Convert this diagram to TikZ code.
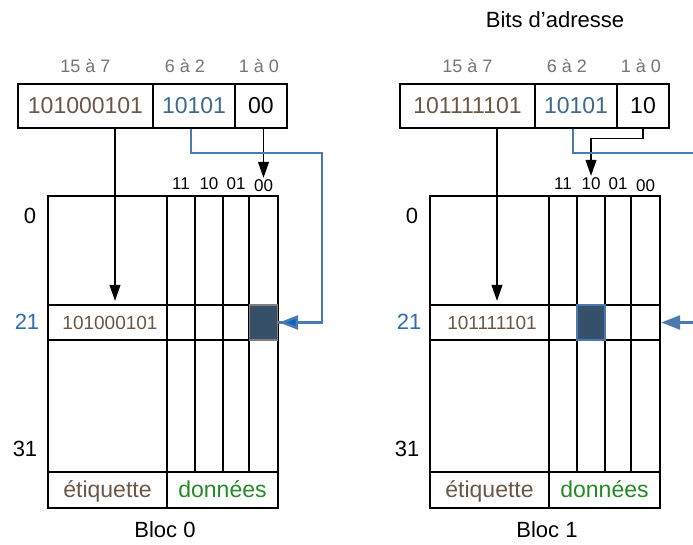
\documentclass[tikz,border=0pt]{standalone}
\usepackage{fontspec}
\setmainfont{Liberation Sans}
\usetikzlibrary{arrows.meta}
\definecolor{tagc}{HTML}{6B5744}
\definecolor{idxc}{HTML}{3E6A8C}
\definecolor{grayl}{HTML}{757575}
\definecolor{rowc}{HTML}{2E6DB0}
\definecolor{datac}{HTML}{258A25}
\definecolor{hlc}{HTML}{37506A}
\definecolor{bline}{HTML}{4A7AB0}
\definecolor{barrow}{HTML}{0C63BE}
\newcommand\cacheblk[5]{%
\begin{scope}[xshift=#2pt]
 \node[lbl] (#1l1) at (85.5,66) {15 à 7};
 \node[lbl] (#1l2) at (185,66) {6 à 2};
 \node[lbl] (#1l3) at (259,66) {1 à 0};
 \node[field,minimum width=135pt,text=tagc] (#1tag) at (85.5,106) {#3};
 \node[field,minimum width=82pt,text=idxc] (#1idx) at (194,106) {10101};
 \node[field,minimum width=52pt] (#1off) at (261,106) {#4};
 \draw[grid] (48,196) rectangle (278,508);
 \draw[grid] (48,305) -- (278,305) (48,340) -- (278,340) (48,472) -- (278,472) (167,196) -- (167,508);
 \draw[grid] (195,196) -- (195,472) (223,196) -- (223,472) (249,196) -- (249,472);
 \node[hdr] (#1h11) at (181,184) {11};
 \node[hdr] (#1h10) at (209,184) {10};
 \node[hdr] (#1h01) at (236,184) {01};
 \node[hdr] (#1h00) at (263.5,186) {00};
 \node[rowlbl] (#1r0) at (30,216) {0};
 \node[rowlbl,text=rowc] (#1r21) at (27,322) {21};
 \node[rowlbl] (#1r31) at (25,449) {31};
 \node[tagcell] (#1t21) at (110,322.5) {#3};
 \node[inner sep=0,minimum width=230pt,minimum height=35pt] (#1row) at (163,322.5) {};
 \node[bot,text=tagc] (#1et) at (107.5,497) {étiquette};
 \node[bot,text=datac] (#1do) at (222.5,497) {données};
 \node[capt] (#1cap) at (165,530) {Bloc #5};
\end{scope}}
\begin{document}
\begin{tikzpicture}[x=1pt,y=-1pt,
  lbl/.style={text=grayl,font=\fontsize{18}{20}\selectfont,inner sep=1pt},
  field/.style={draw,line width=1.1pt,minimum height=44pt,inner sep=0,font=\fontsize{23}{26}\selectfont},
  grid/.style={line width=1.1pt},
  hdr/.style={font=\fontsize{17}{19}\selectfont,inner sep=2pt},
  rowlbl/.style={font=\fontsize{22}{25}\selectfont,inner sep=1pt},
  tagcell/.style={text=tagc,font=\fontsize{19}{21}\selectfont,inner sep=1pt},
  bot/.style={font=\fontsize{23}{26}\selectfont,inner sep=1pt,anchor=base},
  capt/.style={font=\fontsize{22}{25}\selectfont,inner sep=1pt},
  hlcell/.style={fill=hlc,line width=1.1pt,minimum width=28pt,minimum height=35pt,inner sep=0},
  arr/.style={line width=1.1pt,-{Triangle[length=16pt,width=11pt]}},
  bpath/.style={draw=bline,line width=2.5pt},
  barr/.style={line width=2.5pt,-{Triangle[length=19pt,width=14pt]}}
]
\fill[white] (0,0) rectangle (693,545);
\useasboundingbox (0,0) rectangle (693,545);

\node[capt] (title) at (555,20) {Bits d’adresse};

\cacheblk{L}{0}{101000101}{00}{0}
\cacheblk{R}{382}{101111101}{10}{1}

% highlighted cells
\node[hlcell,draw=gray] (Lhl) at (263.5,322.5) {};
\node[hlcell,draw=bline] (Rhl) at (591,322.5) {};

% left block connectors
\draw[arr] ([xshift=29.5pt]Ltag.south) -- ([xshift=-48pt,yshift=4pt]Lrow.north);
\draw[arr] (Lh00.north |- Loff.south) -- (Lh00.north);
\coordinate (Lbend) at (322,153);
\draw[bpath] ([xshift=-3pt]Lidx.south) |- (Lbend) |- (Lhl.east);
\draw[barr,draw=bline,-{Triangle[length=19pt,width=14pt,fill=barrow]}] ([xshift=20pt]Lhl.east) -- ([xshift=1pt]Lhl.east);

% right block connectors
\draw[arr] ([xshift=29.5pt]Rtag.south) -- ([xshift=-48pt,yshift=4pt]Rrow.north);
\draw[arr] (Roff.south) -- ++(0,10) -| (Rh10.north);
\coordinate (Rout) at (700,153);
\coordinate (Rin) at (700,322.5);
\draw[bpath] ([xshift=-3pt]Ridx.south) |- (Rout);
\draw[barr,draw=bline,fill=bline] (Rin) -- ([xshift=1pt]Rrow.east);
\end{tikzpicture}
\end{document}
